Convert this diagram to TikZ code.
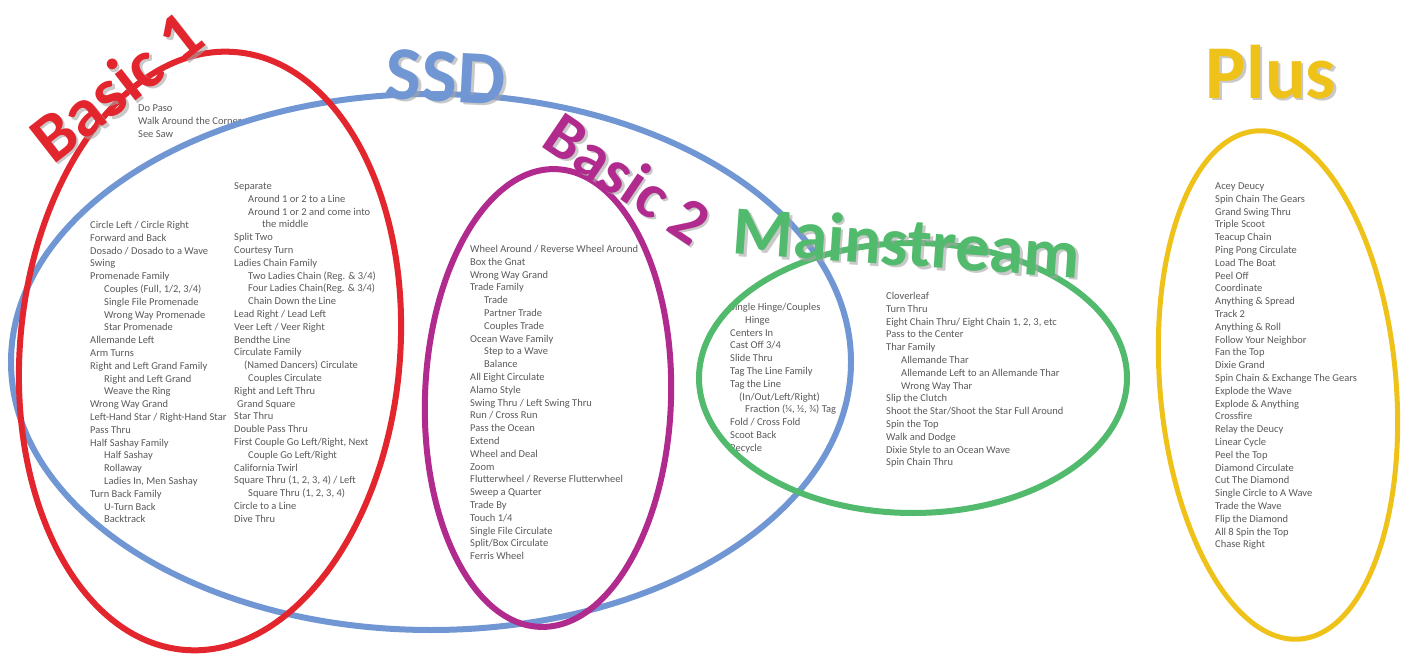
\documentclass[tikz,border=0pt]{standalone}
\usepackage{fontspec}
\setmainfont{Carlito}
\definecolor{cred}{HTML}{E3262E}
\definecolor{cblue}{HTML}{7096D4}
\definecolor{cpurple}{HTML}{B12B8E}
\definecolor{cgreen}{HTML}{52BA6D}
\definecolor{cyellow}{HTML}{EFC21A}
\definecolor{ctext}{HTML}{5A5A5A}
\newcommand\myind{\hspace*{14pt}}
\tikzset{
  listtext/.style={font=\fontsize{10.5}{12.8}\selectfont, text=ctext, align=left, anchor=north west, inner sep=0pt},
  ring/.style={line width=6pt},
  titletext/.style={font=\fontsize{#1}{#1}\selectfont\bfseries, inner sep=0pt},
  shadowtext/.style={font=\fontsize{#1}{#1}\selectfont\bfseries, inner sep=0pt, text=gray!70, opacity=0.6}
}
\begin{document}
\begin{tikzpicture}[x=1pt,y=-1pt]
\useasboundingbox[fill=white] (0,0) rectangle (1421,655);

% ---- text blocks ----
\node[listtext] (dopaso) at (138,102.3) {\strut Do Paso\\Walk Around the Corner\\See Saw};

\node[listtext] (b1a) at (90,219.3) {\strut Circle Left / Circle Right\\
Forward and Back\\
Dosado / Dosado to a Wave\\
Swing\\
Promenade Family\\
\myind Couples (Full, 1/2, 3/4)\\
\myind Single File Promenade\\
\myind Wrong Way Promenade\\
\myind Star Promenade\\
Allemande Left\\
Arm Turns\\
Right and Left Grand Family\\
\myind Right and Left Grand\\
\myind Weave the Ring\\
Wrong Way Grand\\
Left-Hand Star / Right-Hand Star\\
Pass Thru\\
Half Sashay Family\\
\myind Half Sashay\\
\myind Rollaway\\
\myind Ladies In, Men Sashay\\
Turn Back Family\\
\myind U-Turn Back\\
\myind Backtrack};

\node[listtext] (b1b) at (234,180.3) {\strut Separate\\
\myind Around 1 or 2 to a Line\\
\myind Around 1 or 2 and come into\\
\myind\myind the middle\\
Split Two\\
Courtesy Turn\\
Ladies Chain Family\\
\myind Two Ladies Chain (Reg. \& 3/4)\\
\myind Four Ladies Chain(Reg. \& 3/4)\\
\myind Chain Down the Line\\
Lead Right / Lead Left\\
Veer Left / Veer Right\\
Bendthe Line\\
Circulate Family\\
\hspace*{10pt}(Named Dancers) Circulate\\
\myind Couples Circulate\\
Right and Left Thru\\
\hspace*{3pt}Grand Square\\
Star Thru\\
Double Pass Thru\\
First Couple Go Left/Right, Next\\
\myind Couple Go Left/Right\\
California Twirl\\
Square Thru (1, 2, 3, 4) / Left\\
\myind Square Thru (1, 2, 3, 4)\\
Circle to a Line\\
Dive Thru};

\node[listtext] (b2) at (470,243.3) {\strut Wheel Around / Reverse Wheel Around\\
Box the Gnat\\
Wrong Way Grand\\
Trade Family\\
\myind Trade\\
\myind Partner Trade\\
\myind Couples Trade\\
Ocean Wave Family\\
\myind Step to a Wave\\
\myind Balance\\
All Eight Circulate\\
Alamo Style\\
Swing Thru / Left Swing Thru\\
Run / Cross Run\\
Pass the Ocean\\
Extend\\
Wheel and Deal\\
Zoom\\
Flutterwheel / Reverse Flutterwheel\\
Sweep a Quarter\\
Trade By\\
Touch 1/4\\
Single File Circulate\\
Split/Box Circulate\\
Ferris Wheel};

\node[listtext] (msa) at (730,301.3) {\strut Single Hinge/Couples\\
\hspace*{15pt}Hinge\\
Centers In\\
Cast Off 3/4\\
Slide Thru\\
Tag The Line Family\\
Tag the Line\\
\hspace*{9pt}(In/Out/Left/Right)\\
\hspace*{15pt}Fraction (¼, ½, ¾) Tag\\
Fold / Cross Fold\\
Scoot Back\\
Recycle};

\node[listtext] (msb) at (886,290.3) {\strut Cloverleaf\\
Turn Thru\\
Eight Chain Thru/ Eight Chain 1, 2, 3, etc\\
Pass to the Center\\
Thar Family\\
\hspace*{15pt}Allemande Thar\\
\hspace*{15pt}Allemande Left to an Allemande Thar\\
\hspace*{15pt}Wrong Way Thar\\
Slip the Clutch\\
Shoot the Star/Shoot the Star Full Around\\
Spin the Top\\
Walk and Dodge\\
Dixie Style to an Ocean Wave\\
Spin Chain Thru};

\node[listtext] (plus) at (1215,180.3) {\strut Acey Deucy\\
Spin Chain The Gears\\
Grand Swing Thru\\
Triple Scoot\\
Teacup Chain\\
Ping Pong Circulate\\
Load The Boat\\
Peel Off\\
Coordinate\\
Anything \& Spread\\
Track 2\\
Anything \& Roll\\
Follow Your Neighbor\\
Fan the Top\\
Dixie Grand\\
Spin Chain \& Exchange The Gears\\
Explode the Wave\\
Explode \& Anything\\
Crossfire\\
Relay the Deucy\\
Linear Cycle\\
Peel the Top\\
Diamond Circulate\\
Cut The Diamond\\
Single Circle to A Wave\\
Trade the Wave\\
Flip the Diamond\\
All 8 Spin the Top\\
Chase Right};

% ---- ellipses ----
\coordinate (cssd) at (431,362);
\coordinate (cb1) at (210,351);
\coordinate (cb2) at (548,398);
\coordinate (cms) at (913,378);
\coordinate (cpl) at (1278,385);
\draw[ring, cblue] (cssd) ellipse [x radius=420pt, y radius=268pt];
\draw[ring, cred, rotate around={-5:(cb1)}] (cb1) ellipse [x radius=190pt, y radius=300pt];
\draw[ring, cpurple, rotate around={-2:(cb2)}] (cb2) ellipse [x radius=123pt, y radius=229pt];
\draw[ring, cgreen] (cms) ellipse [x radius=214pt, y radius=135pt];
\draw[ring, cyellow, line width=5pt, rotate around={5:(cpl)}] (cpl) ellipse [x radius=118pt, y radius=255pt];

% ---- titles ----
\node[shadowtext=69, rotate=38] (t1s) at (118.5,88.5) {Basic 1};
\node[titletext=69, text=cred, rotate=38] (t1) at (116,86) {Basic 1};
\node[shadowtext=76, rotate=-3] (tssds) at (448.5,79.5) {SSD};
\node[titletext=76, text=cblue, rotate=-3] (tssd) at (446,77) {SSD};
\node[shadowtext=64, rotate=-34] (t2s) at (630.5,180.5) {Basic 2};
\node[titletext=64, text=cpurple, rotate=-34] (t2) at (628,178) {Basic 2};
\node[shadowtext=69, rotate=-4] (tmss) at (909.5,244.5) {Mainstream};
\node[titletext=69, text=cgreen, rotate=-4] (tms) at (907,242) {Mainstream};
\node[shadowtext=76] (tpls) at (1273.5,74.5) {Plus};
\node[titletext=76, text=cyellow] (tpl) at (1271,72) {Plus};
\end{tikzpicture}
\end{document}
